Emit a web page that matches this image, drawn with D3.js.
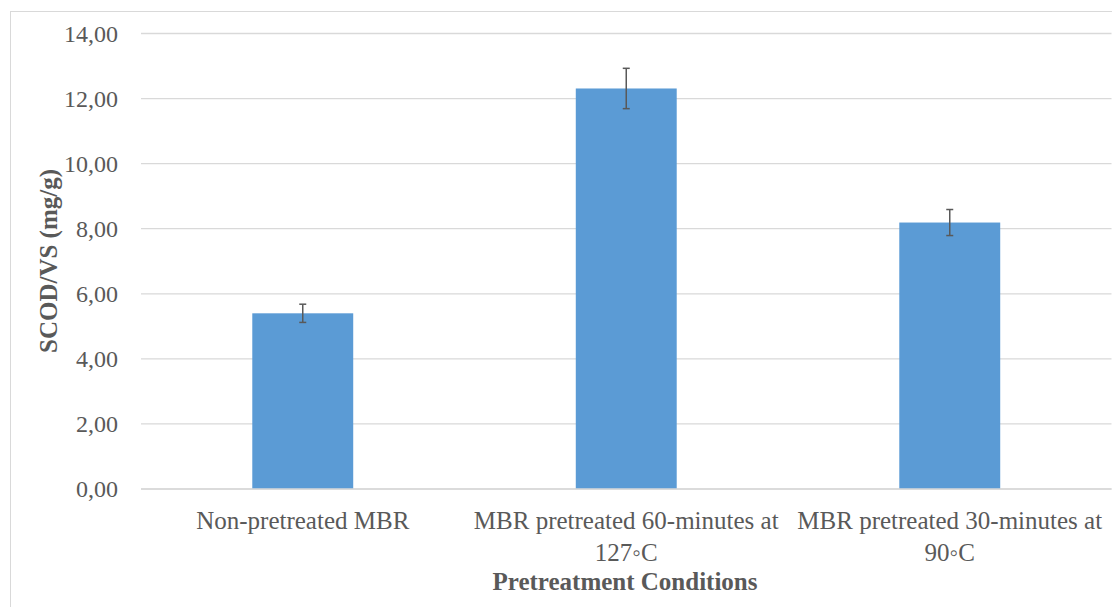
<!DOCTYPE html>
<html><head><meta charset="utf-8">
<script src="https://cdn.jsdelivr.net/npm/d3@7"></script>
<style>body{margin:0;background:#fff}svg{display:block}</style>
</head><body><svg id="c" width="1112" height="607"></svg>
<script>
const categories = [["Non-pretreated MBR"], ["MBR pretreated 60-minutes at", "127\u25E6C"], ["MBR pretreated 30-minutes at", "90\u25E6C"]];
const values = [5.40, 12.31, 8.19];
const errors = [0.28, 0.62, 0.40];
const yTicks = [0, 2, 4, 6, 8, 10, 12, 14];
const yTitle = "SCOD/VS (mg/g)";
const xTitle = "Pretreatment Conditions";

(function(){
const svg = d3.select("#c");
const font = "Liberation Serif";
svg.append("rect").attr("x",10.5).attr("y",11.5).attr("width",1110).attr("height",610)
  .attr("fill","none").attr("stroke","#d9d9d9");

const pL = 141, pR = 1111.5, pT = 33.5, pB = 489;
const x = d3.scaleBand().domain(d3.range(categories.length)).range([pL,pR]).padding(0);
const y = d3.scaleLinear().domain([0,14]).range([pB,pT]);
const bw = x.bandwidth()*0.312;

svg.append("g").selectAll("line").data(yTicks).join("line")
  .attr("x1",pL).attr("x2",pR).attr("y1",d=>y(d)).attr("y2",d=>y(d))
  .attr("stroke","#d9d9d9").attr("stroke-width",1.3);

svg.append("g").selectAll("text").data(yTicks).join("text")
  .attr("x",118).attr("y",d=>y(d)+8).attr("text-anchor","end")
  .style("font-family",font).style("font-size","24px").attr("fill","#595959")
  .text(d=>d.toFixed(2).replace(".",","));

svg.append("g").selectAll("rect").data(values).join("rect")
  .attr("x",(d,i)=>x(i)+x.bandwidth()/2-bw/2).attr("width",bw)
  .attr("y",d=>y(d)).attr("height",d=>y(0)-y(d)).attr("fill","#5b9bd5");

svg.append("line").attr("x1",pL).attr("x2",pR).attr("y1",y(0)).attr("y2",y(0))
  .attr("stroke","#d9d9d9").attr("stroke-width",1.3);

const eg = svg.append("g").attr("stroke","#595959").attr("stroke-width",1.5);
values.forEach((v,i)=>{
  const cx = x(i)+x.bandwidth()/2;
  eg.append("line").attr("x1",cx).attr("x2",cx).attr("y1",y(v+errors[i])).attr("y2",y(v-errors[i]));
  eg.append("line").attr("x1",cx-3.5).attr("x2",cx+3.5).attr("y1",y(v+errors[i])).attr("y2",y(v+errors[i]));
  eg.append("line").attr("x1",cx-3.5).attr("x2",cx+3.5).attr("y1",y(v-errors[i])).attr("y2",y(v-errors[i]));
});

categories.forEach((lines,i)=>{
  const t = svg.append("text").attr("text-anchor","middle").style("font-family",font)
    .style("font-size","25px").attr("fill","#595959");
  lines.forEach((l,j)=>t.append("tspan").attr("x",x(i)+x.bandwidth()/2).attr("y",529+j*32).text(l));
});

svg.append("text").attr("x",625).attr("y",590).attr("text-anchor","middle")
  .style("font-family",font).style("font-size","25px").style("font-weight","bold").attr("fill","#595959")
  .text(xTitle);
svg.append("text").attr("transform",`translate(57,${261}) rotate(-90)`).attr("text-anchor","middle")
  .style("font-family",font).style("font-size","25px").style("font-weight","bold").attr("fill","#595959")
  .text(yTitle);
})();
</script></body></html>
